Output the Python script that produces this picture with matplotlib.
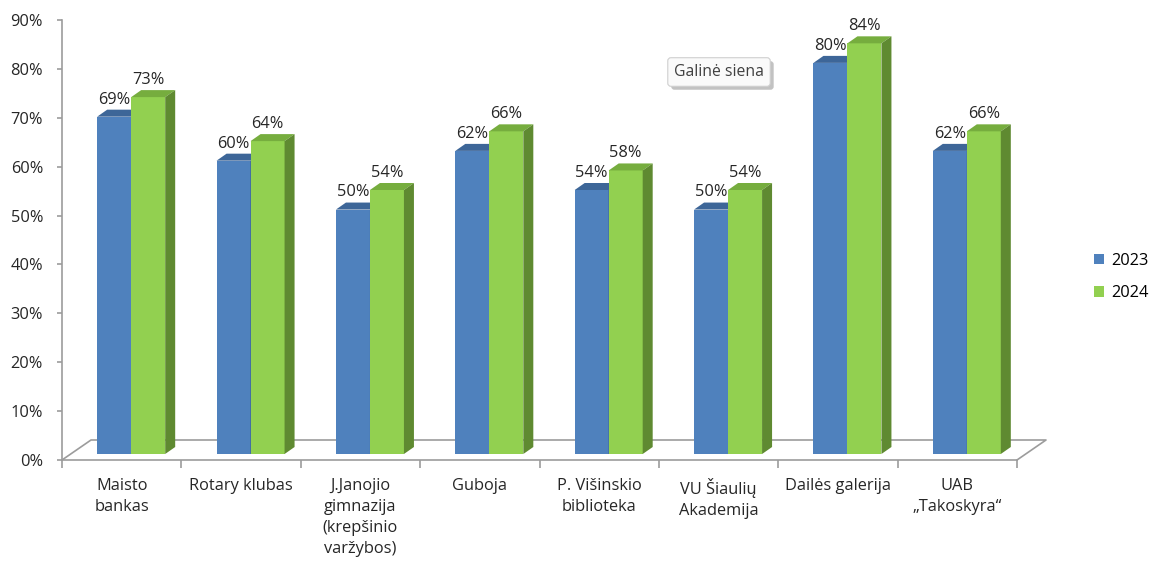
import matplotlib
matplotlib.use("Agg")
import matplotlib.pyplot as plt
from matplotlib.patches import Polygon, Patch
import matplotlib.patheffects as pe
import numpy as np

plt.rcParams['font.family'] = ['Open Sans', 'DejaVu Sans']

categories = ["Maisto\nbankas", "Rotary klubas", "J.Janojio\ngimnazija\n(krepšinio\nvaržybos)",
              "Guboja", "P. Višinskio\nbiblioteka", "VU Šiaulių\nAkademija",
              "Dailės galerija", "UAB\n„Takoskyra“"]
vals_2023 = [69, 60, 50, 62, 54, 50, 80, 62]
vals_2024 = [73, 64, 54, 66, 58, 54, 84, 66]
series_names = ["2023", "2024"]
yticks = [0, 10, 20, 30, 40, 50, 60, 70, 80, 90]

W, H = 1151, 563
fig = plt.figure(figsize=(W / 100, H / 100), dpi=100)
left, right, bottom, top = 62, 1017, 460, 20
ax = fig.add_axes([left / W, 1 - bottom / H, (right - left) / W, (bottom - top) / H])
ax.set_xlim(0, 8)
ax.set_ylim(0, 90)

# px -> data unit conversions
ux = 8 / (right - left)
uy = 90 / (bottom - top)

grey = '#9c9c9c'
txt = '#262626'
FS = 11.8
# floor (3D)
Dx, Dy = 29 * ux, 20 * uy
ax.plot([0, Dx, 8 + Dx, 8], [0, Dy, Dy, 0], color=grey, lw=1.2, clip_on=False, zorder=1)
ax.plot([0, 8], [0, 0], color=grey, lw=1.2, clip_on=False, zorder=1)

n = len(categories)
xc = np.arange(n) + 0.5
bw = 34 * ux
off_x = 9.5 * ux
base = 6 * uy
ddx, ddy = 10 * ux, 7 * uy

colors = {
    "2023": ('#4F81BD', '#3D6698', '#35597F'),
    "2024": ('#92D050', '#76AD3E', '#5F8A31'),
}

def draw_series(xs, vals, cfront, ctop, cside, z):
    ax.bar(xs, vals, width=bw, bottom=base, align='edge', color=cfront,
           edgecolor='none', zorder=z, clip_on=False)
    for x0, v in zip(xs, vals):
        t = base + v
        ax.add_patch(Polygon([(x0, t), (x0 + bw, t), (x0 + bw + ddx, t + ddy), (x0 + ddx, t + ddy)],
                             closed=True, facecolor=ctop, edgecolor='none', zorder=z, clip_on=False))
        ax.add_patch(Polygon([(x0 + bw, base), (x0 + bw, t), (x0 + bw + ddx, t + ddy), (x0 + bw + ddx, base + ddy)],
                             closed=True, facecolor=cside, edgecolor='none', zorder=z, clip_on=False))
        ax.annotate(f"{v}%", (x0 + bw / 2, t + ddy), xytext=(0, 1.5), textcoords='offset points',
                    ha='center', va='bottom', fontsize=FS, color=txt, zorder=10)

x_blue = xc + off_x - bw
x_green = xc + off_x
draw_series(x_blue, vals_2023, *colors["2023"], 3)
draw_series(x_green, vals_2024, *colors["2024"], 4)

# axes styling
for s in ['top', 'right', 'bottom']:
    ax.spines[s].set_visible(False)
ax.spines['left'].set_color(grey)
ax.spines['left'].set_linewidth(1.2)
ax.set_yticks(yticks)
ax.set_yticklabels([f"{t}%" for t in yticks], fontsize=FS, color=txt)
ax.tick_params(axis='y', length=3.6, color=grey, width=1.2, pad=10)
ax.set_xticks(np.arange(n + 1))
ax.set_xticklabels([''] * (n + 1))
ax.tick_params(axis='x', which='major', length=5.8, color=grey, width=1.2)
ax.set_xticks(xc, minor=True)
ax.set_xticklabels(categories, minor=True, fontsize=FS, color=txt, linespacing=1.42)
ax.tick_params(axis='x', which='minor', length=0, pad=13)

# legend
handles = [Patch(facecolor=colors[s][0], edgecolor='none') for s in series_names]
fig.legend(handles, series_names, loc='center left', bbox_to_anchor=(1091 / W, 1 - 277 / H),
           frameon=False, fontsize=FS, handlelength=0.6, handleheight=0.6,
           handletextpad=0.45, labelspacing=1.0, borderaxespad=0, borderpad=0.2)

# "Galinė siena" tooltip
tip = fig.text(719 / W, 1 - 72 / H, "Galinė siena", ha='center', va='center', fontsize=FS - 0.5, color='#404040',
               bbox=dict(boxstyle='round,pad=0.4,rounding_size=0.2', facecolor='#fafafa',
                         edgecolor='#cfcfcf', lw=0.8))
tip.get_bbox_patch().set_path_effects([pe.SimplePatchShadow(offset=(2.5, -2.5), shadow_rgbFace='#9a9a9a', alpha=0.6),
                                       pe.Normal()])

fig.savefig("out.png", dpi=100)
